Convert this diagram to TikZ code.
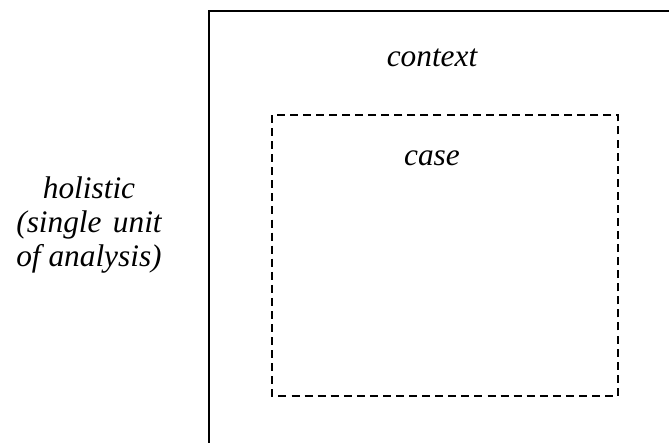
\documentclass[tikz,border=0pt]{standalone}
\usepackage{fontspec}
\setmainfont{Liberation Serif}[ItalicFont={Liberation Serif Italic}]
\newlength\linelen
\tikzset{
  lbl/.style={font=\fontsize{23.5}{26}\selectfont\itshape, inner sep=0pt, anchor=base},
  solidline/.style={line width=1.5pt},
  dashbox/.style={line width=1.3pt, dash pattern=on 6pt off 3.8pt}
}
\begin{document}
\begin{tikzpicture}[x=0.75pt,y=-0.75pt]
\useasboundingbox (0,0) rectangle (669,443);
% outer context frame (cropped)
\coordinate (ctxBL) at (209,443);
\coordinate (ctxTL) at (209,11);
\coordinate (ctxTR) at (669,11);
\draw[solidline] (ctxBL) -- (ctxTL) -- (ctxTR);
% case box
\coordinate (caseTL) at (272,115);
\coordinate (caseBR) at (618,396);
\draw[dashbox] (caseTL) rectangle (caseBR);
% labels
\node[lbl] (context) at (432,66) {context};
\node[lbl] (case) at (432,165) {case};
\node[lbl] (hol1) at (89,198) {holistic};
\node[lbl] (hol2) at (89,232) {\settowidth\linelen{of analysis)}\makebox[\linelen][s]{(single unit}};
\node[lbl] (hol3) at (89,266) {of analysis)};
\end{tikzpicture}
\end{document}
